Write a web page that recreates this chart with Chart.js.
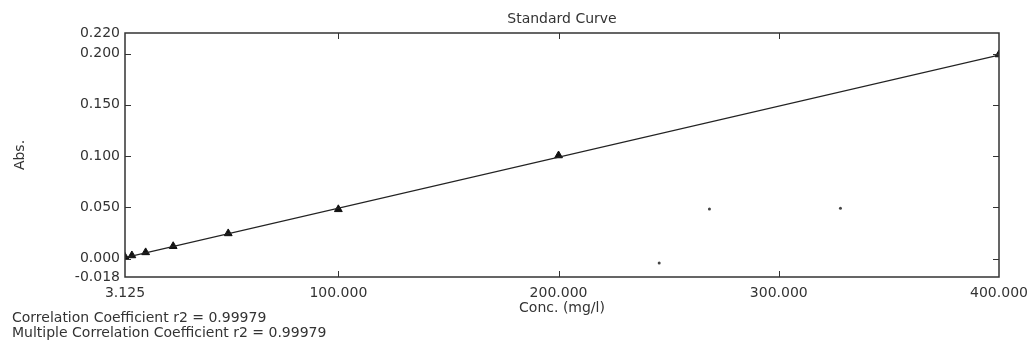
<!DOCTYPE html>
<html>
<head>
<meta charset="utf-8">
<script src="https://cdn.jsdelivr.net/npm/chart.js@4"></script>
<style>
  body { margin: 0; background: #fff; }
  #wrap { position: relative; width: 1027px; height: 345px; }
  .note { position: absolute; left: 12px; font: 14px "DejaVu Sans", sans-serif; color: #333; white-space: nowrap; }
</style>
</head>
<body>
<div id="wrap">
  <canvas id="curve" width="1027" height="345"></canvas>
  <div class="note" style="top:309px">Correlation Coefficient r2 = 0.99979</div>
  <div class="note" style="top:324px">Multiple Correlation Coefficient r2 = 0.99979</div>
</div>
<script>
// standards (conc, abs)
const conc = [3.125, 6.25, 12.5, 25, 50, 100, 200, 400];
const absVals = [0.0015, 0.0030, 0.0060, 0.0120, 0.0245, 0.0480, 0.1005, 0.1990];

// fitted line end points
const fitX = [3.125, 400];
const fitY = [0.0008, 0.1985];

// stray specks in the scan
const speckX = [245.7, 268.5, 328];
const speckY = [-0.0044, 0.0483, 0.049];

const xTicks = [3.125, 100, 200, 300, 400];
const yTicks = [-0.018, 0.000, 0.050, 0.100, 0.150, 0.200, 0.220];

const ink = '#333';
const fontFam = '"DejaVu Sans", sans-serif';
const fs = 14;

const toPts = (xs, ys) => xs.map((x, i) => ({x: x, y: ys[i]}));

/* caixa, marcas internas e titulo */
const framePlugin = {
  id: 'frame',
  afterDraw(chart) {
    const c = chart.ctx, a = chart.chartArea;
    const sx = chart.scales.x, sy = chart.scales.y;
    c.save();
    c.strokeStyle = ink;
    c.lineWidth = 1.5;
    c.strokeRect(a.left, a.top, a.right - a.left, a.bottom - a.top);
    c.lineWidth = 1;
    c.beginPath();
    xTicks.slice(1, -1).forEach(v => {
      const px = Math.round(sx.getPixelForValue(v)) + 0.5;
      c.moveTo(px, a.bottom); c.lineTo(px, a.bottom - 6);
      c.moveTo(px, a.top); c.lineTo(px, a.top + 6);
    });
    yTicks.slice(1, -1).forEach(v => {
      const py = Math.round(sy.getPixelForValue(v)) + 0.5;
      c.moveTo(a.left, py); c.lineTo(a.left + 6, py);
      c.moveTo(a.right, py); c.lineTo(a.right - 6, py);
    });
    c.stroke();
    c.fillStyle = ink;
    c.font = fs + 'px ' + fontFam;
    c.textAlign = 'center';
    c.textBaseline = 'middle';
    c.fillText('Standard Curve', (a.left + a.right) / 2, 19);
    c.restore();
  }
};

new Chart(document.getElementById('curve'), {
  type: 'scatter',
  data: {
    datasets: [
      {
        label: 'fit',
        data: toPts(fitX, fitY),
        showLine: true,
        borderColor: '#222',
        borderWidth: 1.2,
        pointRadius: 0
      },
      {
        label: 'standards',
        data: toPts(conc, absVals),
        pointStyle: 'triangle',
        pointRadius: 4.5,
        backgroundColor: '#111',
        borderColor: '#111',
        borderWidth: 1
      },
      {
        label: 'specks',
        data: toPts(speckX, speckY),
        pointRadius: 1.5,
        backgroundColor: '#444',
        borderWidth: 0
      }
    ]
  },
  options: {
    responsive: false,
    animation: false,
    devicePixelRatio: 1,
    layout: { padding: { top: 33, right: 28, bottom: 26, left: 0 } },
    plugins: {
      legend: { display: false },
      tooltip: { enabled: false }
    },
    scales: {
      x: {
        type: 'linear',
        min: 3.125,
        max: 400,
        grid: { display: false, drawTicks: false },
        border: { display: false },
        afterBuildTicks: s => { s.ticks = xTicks.map(v => ({value: v})); },
        afterFit: s => { s.height = 42; s.paddingRight = 0; },
        ticks: {
          color: ink,
          font: { family: fontFam, size: fs },
          padding: 8,
          maxRotation: 0,
          autoSkip: false,
          callback: v => Number(v).toFixed(3)
        },
        title: {
          display: true,
          text: 'Conc. (mg/l)',
          color: ink,
          font: { family: fontFam, size: fs },
          padding: { top: 0, bottom: 2 }
        }
      },
      y: {
        min: -0.018,
        max: 0.22,
        grid: { display: false, drawTicks: false },
        border: { display: false },
        afterBuildTicks: s => { s.ticks = yTicks.map(v => ({value: v})); },
        afterFit: s => { s.width = 125; },
        ticks: {
          color: ink,
          font: { family: fontFam, size: fs },
          padding: 5,
          autoSkip: false,
          callback: v => Number(v).toFixed(3)
        },
        title: {
          display: true,
          text: 'Abs.',
          color: ink,
          font: { family: fontFam, size: fs },
          padding: { top: 12, bottom: 0 }
        }
      }
    }
  },
  plugins: [framePlugin]
});
</script>
</body>
</html>
